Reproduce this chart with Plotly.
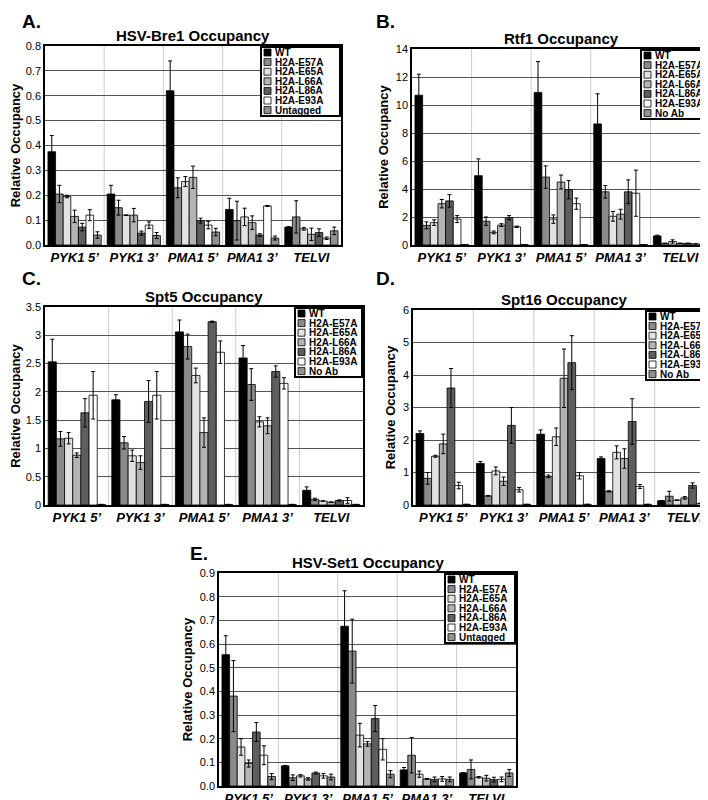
import plotly.graph_objects as go

categories = ["PYK1 5’", "PYK1 3’", "PMA1 5’", "PMA1 3’", "TELVI"]
series_A = ["WT", "H2A-E57A", "H2A-E65A", "H2A-L66A", "H2A-L86A", "H2A-E93A", "Untagged"]
series_B = ["WT", "H2A-E57A", "H2A-E65A", "H2A-L66A", "H2A-L86A", "H2A-E93A", "No Ab"]

# values[series][category]
bre1 = [[0.375, 0.205, 0.62, 0.143, 0.072],
        [0.205, 0.15, 0.23, 0.098, 0.113],
        [0.195, 0.12, 0.255, 0.113, 0.065],
        [0.115, 0.12, 0.272, 0.09, 0.043],
        [0.072, 0.048, 0.098, 0.04, 0.05],
        [0.12, 0.08, 0.08, 0.157, 0.027],
        [0.04, 0.038, 0.052, 0.028, 0.057]]
bre1_err = [[0.065, 0.035, 0.12, 0.045, 0.002],
            [0.035, 0.03, 0.04, 0.078, 0.065],
            [0.005, 0.0, 0.02, 0.035, 0.005],
            [0.025, 0.027, 0.045, 0.027, 0.025],
            [0.015, 0.008, 0.01, 0.005, 0.015],
            [0.022, 0.013, 0.015, 0.002, 0.005],
            [0.013, 0.012, 0.015, 0.008, 0.015]]

rtf1 = [[10.7, 4.95, 10.9, 8.65, 0.65],
        [1.4, 1.7, 4.85, 3.8, 0.12],
        [1.6, 0.9, 1.85, 2.05, 0.25],
        [2.95, 1.42, 4.5, 2.2, 0.12],
        [3.15, 1.95, 3.95, 3.8, 0.12],
        [1.85, 1.3, 2.95, 3.7, 0.08],
        [0.03, 0.03, 0.03, 0.03, 0.03]]
rtf1_err = [[1.5, 1.2, 2.2, 2.15, 0.05],
            [0.25, 0.3, 0.8, 0.45, 0.0],
            [0.2, 0.1, 0.3, 0.35, 0.12],
            [0.3, 0.1, 0.5, 0.35, 0.0],
            [0.45, 0.15, 0.65, 0.85, 0.0],
            [0.25, 0.05, 0.4, 1.65, 0.0],
            [0, 0, 0, 0, 0]]

spt5 = [[2.53, 1.86, 3.06, 2.6, 0.26],
        [1.17, 1.1, 2.8, 2.13, 0.1],
        [1.18, 0.87, 2.29, 1.47, 0.07],
        [0.88, 0.75, 1.28, 1.4, 0.05],
        [1.63, 1.83, 3.24, 2.36, 0.08],
        [1.94, 1.94, 2.7, 2.15, 0.08],
        [0.01, 0.01, 0.01, 0.01, 0.01]]
spt5_err = [[0.4, 0.09, 0.21, 0.22, 0.06],
            [0.13, 0.11, 0.22, 0.28, 0.02],
            [0.1, 0.1, 0.13, 0.09, 0.0],
            [0.04, 0.12, 0.26, 0.14, 0.0],
            [0.25, 0.37, 0.01, 0.1, 0.01],
            [0.42, 0.42, 0.2, 0.1, 0.05],
            [0, 0, 0, 0, 0]]

spt16 = [[2.2, 1.28, 2.18, 1.43, 0.13],
         [0.82, 0.28, 0.88, 0.42, 0.27],
         [1.5, 1.05, 2.1, 1.62, 0.15],
         [1.88, 0.73, 3.9, 1.43, 0.22],
         [3.6, 2.45, 4.38, 2.57, 0.6],
         [0.6, 0.47, 0.9, 0.57, 0.05],
         [0.02, 0.02, 0.02, 0.02, 0.02]]
spt16_err = [[0.08, 0.06, 0.13, 0.05, 0.0],
             [0.18, 0.0, 0.04, 0.02, 0.15],
             [0.03, 0.12, 0.27, 0.2, 0.0],
             [0.3, 0.13, 0.9, 0.3, 0.04],
             [0.6, 0.55, 0.83, 0.7, 0.08],
             [0.1, 0.07, 0.1, 0.06, 0.0],
             [0, 0, 0, 0, 0]]

set1 = [[0.555, 0.085, 0.675, 0.068, 0.055],
        [0.38, 0.035, 0.57, 0.13, 0.07],
        [0.165, 0.043, 0.215, 0.05, 0.037],
        [0.095, 0.03, 0.178, 0.03, 0.033],
        [0.228, 0.055, 0.285, 0.028, 0.027],
        [0.13, 0.043, 0.155, 0.03, 0.028],
        [0.04, 0.038, 0.05, 0.028, 0.055]]
set1_err = [[0.08, 0.002, 0.15, 0.01, 0.002],
            [0.15, 0.012, 0.135, 0.075, 0.04],
            [0.035, 0.005, 0.05, 0.013, 0.003],
            [0.015, 0.005, 0.01, 0.002, 0.012],
            [0.04, 0.004, 0.055, 0.01, 0.01],
            [0.04, 0.01, 0.045, 0.01, 0.01],
            [0.013, 0.012, 0.015, 0.01, 0.015]]

colors = ["#000000", "#8a8a8a", "#e2e2e2", "#b4b4b4", "#5e5e5e", "#ffffff", "#929292"]

W, H = 708, 800
FONT = "Liberation Sans, Arial"
def px(x0, x1, y0, y1):
    return [x0 / W, x1 / W], [1 - y1 / H, 1 - y0 / H]

panels = [
    dict(letter="A.", title="HSV-Bre1 Occupancy", data=bre1, err=bre1_err, names=series_A,
         box=(37, 333, 38, 237), rng=[0, 0.8], dt=0.1, fmt=".1f", lab=(12, 14), lw=79),
    dict(letter="B.", title="Rtf1 Occupancy", data=rtf1, err=rtf1_err, names=series_B,
         box=(404, 702, 41, 237), rng=[0, 14], dt=2, fmt="d", lab=(366, 14), lw=68),
    dict(letter="C.", title="Spt5 Occupancy", data=spt5, err=spt5_err, names=series_B,
         box=(37, 355, 299, 497), rng=[0, 3.5], dt=0.5, fmt="", lab=(12, 270), lw=67),
    dict(letter="D.", title="Spt16 Occupancy", data=spt16, err=spt16_err, names=series_B,
         box=(405, 707, 302, 497), rng=[0, 6], dt=1, fmt="d", lab=(366, 270), lw=68),
    dict(letter="E.", title="HSV-Set1 Occupancy", data=set1, err=set1_err, names=series_A,
         box=(211, 508, 565, 778), rng=[0, 0.9], dt=0.1, fmt=".1f", lab=(180, 545), lw=70),
]

fig = go.Figure()
layout = {}
annotations = []
shapes = []
tickfont = dict(family=FONT, size=13, color="black")
for i, p in enumerate(panels):
    n = i + 1
    xs = "x" if n == 1 else f"x{n}"
    ys = "y" if n == 1 else f"y{n}"
    xa = "xaxis" if n == 1 else f"xaxis{n}"
    ya = "yaxis" if n == 1 else f"yaxis{n}"
    xd, yd = px(*p["box"])
    for s in range(7):
        fig.add_trace(go.Bar(
            x=[f"<b><i>{c}</i></b>" for c in categories], y=p["data"][s], name=p["names"][s],
            marker=dict(color=colors[s], line=dict(color="black", width=0.8)),
            error_y=dict(type="data", array=p["err"][s], color="black", thickness=1, width=2),
            xaxis=xs, yaxis=ys, showlegend=False))
    layout[xa] = dict(domain=xd, anchor=ys, showline=True, mirror=True, linecolor="black",
                      linewidth=1.5, ticks="", tickfont=tickfont, showgrid=False, automargin=False)
    layout[ya] = dict(domain=yd, anchor=xs, range=p["rng"], dtick=p["dt"], tickformat=p["fmt"],
                      showline=True, mirror=True, linecolor="black", linewidth=1.5,
                      gridcolor="#555555", gridwidth=1, ticks="", zeroline=False, automargin=False,
                      tickfont=dict(family=FONT, size=11, color="black"),
                      title=dict(text="<b>Relative Occupancy</b>", standoff=4,
                                 font=dict(family=FONT, size=13, color="black")))
    for b in [0.5, 1.5, 2.5, 3.5]:
        shapes.append(dict(type="line", xref=xs, yref=f"{ys} domain", x0=b, x1=b, y0=0, y1=1,
                           line=dict(color="#cccccc", width=1), layer="below"))
    annotations.append(dict(text=f"<b>{p['title']}</b>", x=(xd[0] + xd[1]) / 2, y=yd[1],
                            xref="paper", yref="paper", xanchor="center", yanchor="bottom",
                            showarrow=False, font=dict(family=FONT, size=15, color="black")))
    annotations.append(dict(text=f"<b>{p['letter']}</b>", x=p["lab"][0] / W, y=1 - p["lab"][1] / H,
                            xref="paper", yref="paper", xanchor="left", yanchor="middle",
                            showarrow=False, font=dict(family=FONT, size=19, color="black")))
    # manual legend box
    bx1, by0 = p["box"][1] - 1, p["box"][2] + 1
    bx0, by1 = bx1 - p["lw"], by0 + 69
    shapes.append(dict(type="rect", xref="paper", yref="paper", x0=bx0 / W, x1=bx1 / W,
                       y0=1 - by1 / H, y1=1 - by0 / H, fillcolor="white",
                       line=dict(color="black", width=2), layer="above"))
    for s in range(7):
        cy = by0 + 5.5 + s * 9.6
        shapes.append(dict(type="rect", xref="paper", yref="paper",
                           x0=(bx0 + 3) / W, x1=(bx0 + 10) / W,
                           y0=1 - (cy + 3.5) / H, y1=1 - (cy - 3.5) / H,
                           fillcolor=colors[s], line=dict(color="black", width=0.8), layer="above"))
        annotations.append(dict(text=f"<b>{p['names'][s]}</b>", x=(bx0 + 12) / W, y=1 - cy / H,
                                xref="paper", yref="paper", xanchor="left", yanchor="middle",
                                showarrow=False, font=dict(family=FONT, size=10, color="black")))

fig.update_layout(**layout)
fig.update_layout(width=W, height=H, margin=dict(l=0, r=0, t=0, b=0),
                  plot_bgcolor="white", paper_bgcolor="white", showlegend=False,
                  barmode="group", bargap=0.1, bargroupgap=0,
                  annotations=annotations, shapes=shapes)
fig.write_html("out.html")
